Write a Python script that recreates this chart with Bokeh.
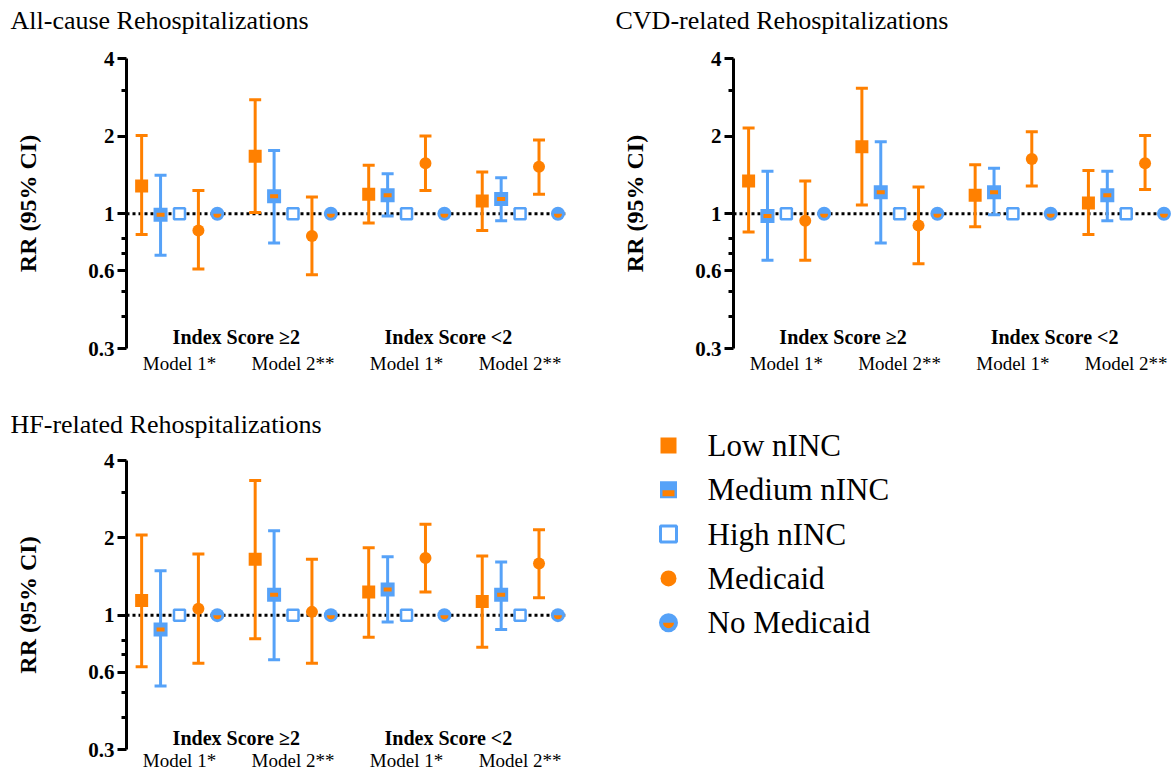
import numpy as np
from bokeh.plotting import figure
from bokeh.layouts import column, row
from bokeh.models import Range1d, FixedTicker, Span, Label, CustomJSTickFormatter
from bokeh.core.properties import value
from bokeh.embed import file_html
from bokeh.resources import INLINE

ORANGE = "#FF8000"
BLUE = "#56A2F8"
SERIF = "Liberation Serif"

# ---- categories -------------------------------------------------------------
titles = ["All-cause Rehospitalizations", "CVD-related Rehospitalizations",
          "HF-related Rehospitalizations"]
series = ["Low nINC", "Medium nINC", "High nINC", "Medicaid", "No Medicaid"]
models = ["Model 1*", "Model 2**", "Model 1*", "Model 2**"]
strata = ["Index Score \u22652", "Index Score <2"]
y_ticks = [0.3, 0.6, 1, 2, 4]
y_minor = [0.4, 0.5, 0.7, 0.8, 3]

# ---- rate ratios (95% CI); reference groups (High nINC, No Medicaid) = 1 ------
ref_rr = [1, 1, 1, 1]

# All-cause rehospitalizations
ac_low_rr = [1.28, 1.67, 1.19, 1.12]
ac_low_lo = [0.83, 1.01, 0.92, 0.86]
ac_low_hi = [2.01, 2.77, 1.54, 1.45]
ac_mid_rr = [0.99, 1.17, 1.18, 1.14]
ac_mid_lo = [0.69, 0.77, 0.98, 0.94]
ac_mid_hi = [1.41, 1.76, 1.43, 1.38]
ac_mcd_rr = [0.86, 0.82, 1.57, 1.52]
ac_mcd_lo = [0.61, 0.58, 1.23, 1.19]
ac_mcd_hi = [1.23, 1.16, 2.00, 1.93]

# CVD-related rehospitalizations
cvd_low_rr = [1.34, 1.82, 1.18, 1.10]
cvd_low_lo = [0.85, 1.08, 0.89, 0.83]
cvd_low_hi = [2.15, 3.07, 1.55, 1.47]
cvd_mid_rr = [0.98, 1.21, 1.21, 1.18]
cvd_mid_lo = [0.66, 0.77, 0.99, 0.94]
cvd_mid_hi = [1.46, 1.90, 1.50, 1.46]
cvd_mcd_rr = [0.94, 0.90, 1.63, 1.57]
cvd_mcd_lo = [0.66, 0.64, 1.28, 1.24]
cvd_mcd_hi = [1.34, 1.27, 2.08, 2.01]

# HF-related rehospitalizations
hf_low_rr = [1.14, 1.65, 1.23, 1.13]
hf_low_lo = [0.63, 0.81, 0.82, 0.75]
hf_low_hi = [2.05, 3.34, 1.83, 1.70]
hf_mid_rr = [0.88, 1.20, 1.26, 1.20]
hf_mid_lo = [0.53, 0.67, 0.94, 0.88]
hf_mid_hi = [1.49, 2.13, 1.69, 1.61]
hf_mcd_rr = [1.06, 1.03, 1.67, 1.59]
hf_mcd_lo = [0.65, 0.65, 1.23, 1.17]
hf_mcd_hi = [1.73, 1.65, 2.26, 2.15]

# ---- x layout: five series per model group, one empty slot between groups ----
GROUP_STEP = len(series) + 1
group_start = [g * GROUP_STEP for g in range(len(models))]
model_centers = [s + (len(series) - 1) / 2 for s in group_start]
strata_centers = [(model_centers[0] + model_centers[1]) / 2,
                  (model_centers[2] + model_centers[3]) / 2]
strata_offsets = [0, -15]


def xpos(i):
    return [s + i for s in group_start]


def blank(width, height):
    """Axis-less figure whose data units are pixels (y downward)."""
    f = figure(width=width, height=height, x_range=Range1d(0, width),
               y_range=Range1d(height, 0), output_backend="svg",
               toolbar_location=None, x_axis_location=None, y_axis_location=None,
               min_border=0, outline_line_color=None)
    f.frame_align = False
    f.xgrid.visible = False
    f.ygrid.visible = False
    return f


def title_strip(text, width, height, x):
    t = blank(width, height)
    t.text(x=[x], y=[height / 2 + 1], text=[text], text_font=value(SERIF),
           text_font_size="26px", text_baseline="middle", text_color="black")
    return t


def error_bars(p, x, lo, hi, color):
    p.segment(x0=x, y0=lo, x1=x, y1=hi, line_color=color, line_width=3)
    for ends in (lo, hi):
        p.scatter(x=x, y=ends, marker="dash", size=12, line_color=color, line_width=3)


def panel(low, mid, mcd, width, height, top, bottom, right, label_standoff):
    p = figure(width=width, height=height, y_axis_type="log",
               x_range=Range1d(-0.8, 22.4), y_range=Range1d(0.3, 4),
               output_backend="svg", toolbar_location=None,
               min_border_left=126, min_border_right=right,
               min_border_top=top, min_border_bottom=bottom,
               outline_line_color=None)
    p.xgrid.visible = False
    p.ygrid.visible = False

    ya = p.yaxis[0]
    ya.ticker = FixedTicker(ticks=y_ticks, minor_ticks=y_minor)
    ya.formatter = CustomJSTickFormatter(code="return String(tick)")
    ya.axis_line_width = 3
    ya.axis_line_color = "black"
    ya.major_tick_line_width = 3
    ya.minor_tick_line_width = 3
    ya.major_tick_line_color = "black"
    ya.minor_tick_line_color = "black"
    ya.major_tick_in = 0
    ya.major_tick_out = 9
    ya.minor_tick_in = 0
    ya.minor_tick_out = 5
    ya.major_label_standoff = 3
    ya.major_label_text_font = SERIF
    ya.major_label_text_font_style = "bold"
    ya.major_label_text_font_size = "21px"
    ya.major_label_text_color = "black"
    ya.axis_label = "RR (95% CI)"
    ya.axis_label_text_font = SERIF
    ya.axis_label_text_font_style = "bold"
    ya.axis_label_text_font_size = "24px"
    ya.axis_label_text_color = "black"
    ya.axis_label_standoff = 44

    xa = p.xaxis[0]
    xa.ticker = FixedTicker(ticks=model_centers)
    xa.formatter = CustomJSTickFormatter(
        args=dict(labels=models, pos=model_centers),
        code="const i = pos.indexOf(tick); return i >= 0 ? labels[i] : ''")
    xa.axis_line_color = None
    xa.major_tick_line_color = None
    xa.minor_tick_line_color = None
    xa.major_tick_in = 0
    xa.major_tick_out = 0
    xa.minor_tick_in = 0
    xa.minor_tick_out = 0
    xa.major_label_standoff = label_standoff
    xa.major_label_text_font = SERIF
    xa.major_label_text_font_size = "19px"
    xa.major_label_text_color = "black"

    p.add_layout(Span(location=1, dimension="width", line_color="black",
                      line_width=3, line_dash="3 3", level="underlay"))

    x_low, x_mid, x_high, x_mcd, x_nomcd = (xpos(i) for i in range(len(series)))
    error_bars(p, x_low, low[1], low[2], ORANGE)
    error_bars(p, x_mid, mid[1], mid[2], BLUE)
    error_bars(p, x_mcd, mcd[1], mcd[2], ORANGE)

    # Low nINC
    p.scatter(x=x_low, y=low[0], marker="square", size=13, fill_color=ORANGE, line_color=None)
    # Medium nINC: blue square with orange bar
    p.scatter(x=x_mid, y=mid[0], marker="square", size=14, fill_color=BLUE, line_color=None)
    p.scatter(x=x_mid, y=mid[0], marker="dash", size=8, line_color=ORANGE, line_width=4)
    # High nINC (reference)
    p.scatter(x=x_high, y=ref_rr, marker="square", size=11, fill_color="white",
              line_color=BLUE, line_width=2.5)
    # Medicaid
    p.scatter(x=x_mcd, y=mcd[0], marker="circle", size=12, fill_color=ORANGE, line_color=None)
    # No Medicaid (reference): blue disc with orange lower half
    p.scatter(x=x_nomcd, y=ref_rr, marker="circle", size=14, fill_color=BLUE, line_color=None)
    p.wedge(x=x_nomcd, y=ref_rr, radius=4, radius_units="screen",
            start_angle=np.pi, end_angle=2 * np.pi, fill_color=ORANGE, line_color=None)

    for cx, off, name in zip(strata_centers, strata_offsets, strata):
        p.add_layout(Label(x=cx, y=12, x_units="data", y_units="screen", x_offset=off,
                           text=name, text_font=SERIF, text_font_style="bold",
                           text_font_size="20px", text_align="center",
                           text_baseline="middle", text_color="black"))
    return p


LEFT_W, RIGHT_W = 607, 564
TITLE_H = 38          # title strip above each top panel
PANEL_TOP_H = 365     # top row of panels
TITLE3_H = 40         # title strip above the bottom panel
PANEL_BOT_H = 330
LEG_H = TITLE3_H + PANEL_BOT_H

t1 = title_strip(titles[0], LEFT_W, TITLE_H, 10)
t2 = title_strip(titles[1], RIGHT_W, TITLE_H, 8)
t3 = title_strip(titles[2], LEFT_W, TITLE3_H, 10)

p1 = panel((ac_low_rr, ac_low_lo, ac_low_hi), (ac_mid_rr, ac_mid_lo, ac_mid_hi),
           (ac_mcd_rr, ac_mcd_lo, ac_mcd_hi),
           width=LEFT_W, height=PANEL_TOP_H, top=20, bottom=55, right=42, label_standoff=4)
p2 = panel((cvd_low_rr, cvd_low_lo, cvd_low_hi), (cvd_mid_rr, cvd_mid_lo, cvd_mid_hi),
           (cvd_mcd_rr, cvd_mcd_lo, cvd_mcd_hi),
           width=RIGHT_W, height=PANEL_TOP_H, top=20, bottom=55, right=0, label_standoff=4)
p3 = panel((hf_low_rr, hf_low_lo, hf_low_hi), (hf_mid_rr, hf_mid_lo, hf_mid_hi),
           (hf_mcd_rr, hf_mcd_lo, hf_mcd_hi),
           width=LEFT_W, height=PANEL_BOT_H, top=17, bottom=23, right=42, label_standoff=0)

# ---- legend (pixel coordinates, y downward) -----------------------------------
leg = blank(RIGHT_W, LEG_H)
row_y = [42 + 44.3 * i for i in range(len(series))]
mx = 61
leg.scatter(x=[mx], y=[row_y[0]], marker="square", size=16, fill_color=ORANGE, line_color=None)
leg.scatter(x=[mx], y=[row_y[1]], marker="square", size=17, fill_color=BLUE, line_color=None)
leg.rect(x=[mx], y=[row_y[1] + 3.5], width=12, height=6, fill_color=ORANGE, line_color=None)
leg.scatter(x=[mx], y=[row_y[2]], marker="square", size=16, fill_color="white",
            line_color=BLUE, line_width=3)
leg.scatter(x=[mx], y=[row_y[3]], marker="circle", size=16, fill_color=ORANGE, line_color=None)
leg.scatter(x=[mx], y=[row_y[4]], marker="circle", size=19, fill_color=BLUE, line_color=None)
leg.wedge(x=[mx], y=[row_y[4]], radius=5.5, radius_units="screen",
          start_angle=np.pi, end_angle=2 * np.pi, fill_color=ORANGE, line_color=None)
leg.text(x=[100] * len(series), y=row_y, text=series, text_font=value(SERIF),
         text_font_size="31px", text_baseline="middle", text_color="black")

layout = column(row(t1, t2), row(p1, p2), row(column(t3, p3), leg))
open("out.html", "w").write(file_html(layout, INLINE))
